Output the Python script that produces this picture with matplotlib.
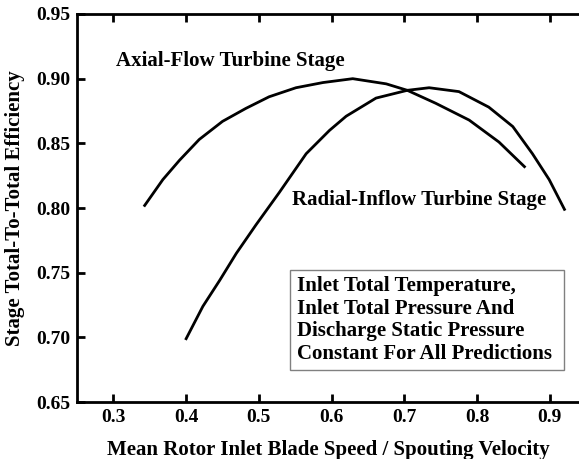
import matplotlib
matplotlib.use("Agg")
import matplotlib.pyplot as plt
from matplotlib.patches import Rectangle

# values
axial_x = [0.343, 0.368, 0.391, 0.418, 0.450, 0.482, 0.514, 0.551, 0.588, 0.629, 0.675, 0.704, 0.743, 0.789, 0.830, 0.865]
axial_y = [0.802, 0.822, 0.837, 0.853, 0.867, 0.877, 0.886, 0.893, 0.897, 0.900, 0.896, 0.891, 0.881, 0.868, 0.851, 0.832]

radial_x = [0.400, 0.423, 0.446, 0.469, 0.496, 0.528, 0.565, 0.597, 0.620, 0.661, 0.704, 0.734, 0.775, 0.816, 0.849, 0.876, 0.899, 0.920]
radial_y = [0.699, 0.724, 0.744, 0.765, 0.787, 0.812, 0.842, 0.860, 0.871, 0.885, 0.891, 0.893, 0.890, 0.878, 0.863, 0.842, 0.822, 0.799]

x_ticks = [0.3, 0.4, 0.5, 0.6, 0.7, 0.8, 0.9]
y_ticks = [0.65, 0.70, 0.75, 0.80, 0.85, 0.90, 0.95]

plt.rcParams["font.family"] = ["Liberation Serif", "DejaVu Serif"]
plt.rcParams["font.weight"] = "bold"
plt.rcParams["axes.labelweight"] = "bold"
plt.rcParams["font.size"] = 14

fig = plt.figure(figsize=(5.79, 4.59), dpi=100)
ax = fig.add_axes([0.133, 0.124, 0.867, 0.8455])

ax.plot(axial_x, axial_y, color="black", lw=2, solid_joinstyle="round")
ax.plot(radial_x, radial_y, color="black", lw=2, solid_joinstyle="round")

ax.set_xlim(0.25, 0.94)
ax.set_ylim(0.65, 0.95)
ax.set_xticks(x_ticks)
ax.set_xticklabels(["%.1f" % v for v in x_ticks])
ax.set_yticks(y_ticks)
ax.set_yticklabels(["%.2f" % v for v in y_ticks])

for s in ["left", "bottom", "top"]:
    ax.spines[s].set_linewidth(2)
ax.spines["right"].set_visible(False)
ax.tick_params(direction="in", length=6, width=2, top=True, pad=5)
ax.tick_params(axis="x", labeltop=False)

ax.set_xlabel("Mean Rotor Inlet Blade Speed / Spouting Velocity", fontsize=15, labelpad=10)
ax.set_ylabel("Stage Total-To-Total Efficiency", fontsize=15, labelpad=8)

ax.text(0.304, 0.914, "Axial-Flow Turbine Stage", fontsize=15, va="center")
ax.text(0.546, 0.806, "Radial-Inflow Turbine Stage", fontsize=15, va="center")

# note box
ax.add_patch(Rectangle((0.543, 0.675), 0.3765, 0.077, facecolor="white", edgecolor="gray", lw=1, zorder=3))
ax.text(0.553, 0.7135, "Inlet Total Temperature,\nInlet Total Pressure And\nDischarge Static Pressure\nConstant For All Predictions",
        fontsize=15, va="center", ha="left", linespacing=1.17, zorder=4)

fig.savefig("out.png", dpi=100)
